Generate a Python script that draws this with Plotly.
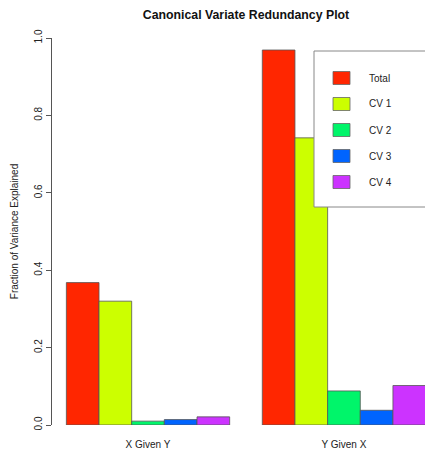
import plotly.graph_objects as go

groups = ["X Given Y", "Y Given X"]
series_names = ["Total", "CV 1", "CV 2", "CV 3", "CV 4"]
total = [0.368, 0.969]
cv1 = [0.320, 0.742]
cv2 = [0.010, 0.088]
cv3 = [0.014, 0.038]
cv4 = [0.021, 0.102]
colors = ["#FF2600", "#CCFF00", "#00F56A", "#0064FF", "#CC33FF"]

series_values = [total, cv1, cv2, cv3, cv4]

fig = go.Figure()
for name, vals, col in zip(series_names, series_values, colors):
    fig.add_trace(go.Bar(
        x=groups, y=vals, name=name, showlegend=False,
        marker=dict(color=col, line=dict(color="#555555", width=0.8)),
    ))

# Plot area geometry (pixels) used to place the legend in paper coordinates
L, R_, T, B = 52, 425, 38, 425
def px_x(px):
    return (px - L) / (R_ - L)
def px_y(py):
    return (B - py) / (B - T)

# Manual legend (R style box)
fig.add_shape(type="rect", xref="paper", yref="paper",
              x0=px_x(314), x1=px_x(445), y0=px_y(207), y1=px_y(51),
              line=dict(color="#888888", width=1), fillcolor="white", layer="above")
for i, (name, col) in enumerate(zip(series_names, colors)):
    cy = 78 + 26 * i
    fig.add_shape(type="rect", xref="paper", yref="paper",
                  x0=px_x(333), x1=px_x(350), y0=px_y(cy + 6.5), y1=px_y(cy - 6.5),
                  line=dict(color="#666666", width=0.8), fillcolor=col, layer="above")
    fig.add_annotation(xref="paper", yref="paper", x=px_x(367), y=px_y(cy),
                       text=name, showarrow=False, xanchor="left", yanchor="middle",
                       font=dict(size=10, color="#222222"))

font = "Liberation Sans, Arial, Helvetica, sans-serif"
fig.update_layout(
    width=425, height=450,
    margin=dict(l=L, r=0, t=T, b=450 - B, pad=0),
    paper_bgcolor="white", plot_bgcolor="white",
    barmode="group", bargap=1/6, bargroupgap=0,
    font=dict(family=font, size=10, color="#222222"),
    title=dict(text="<b>Canonical Variate Redundancy Plot</b>",
               x=246 / 425, xanchor="center", y=1 - 15 / 450, yanchor="middle",
               font=dict(size=12.3, color="#111111")),
    showlegend=False,
    xaxis=dict(type="category", range=[-0.49, 1.4136], showline=False, showgrid=False,
               zeroline=False, ticks="outside", ticklen=10, tickcolor="rgba(0,0,0,0)",
               tickfont=dict(size=10, color="#222222")),
    yaxis=dict(range=[0, 1], showline=True, linecolor="#555555", linewidth=1,
               showgrid=False, zeroline=False, ticks="outside", ticklen=5,
               tickcolor="#555555", tickvals=[0, 0.2, 0.4, 0.6, 0.8, 1.0],
               ticktext=["0.0", "0.2", "0.4", "0.6", "0.8", "1.0"], tickangle=-90,
               tickfont=dict(size=10, color="#222222"),
               title=dict(text="Fraction of Variance Explained", standoff=12,
                          font=dict(size=10, color="#222222"))),
)

fig.write_html("out.html")
